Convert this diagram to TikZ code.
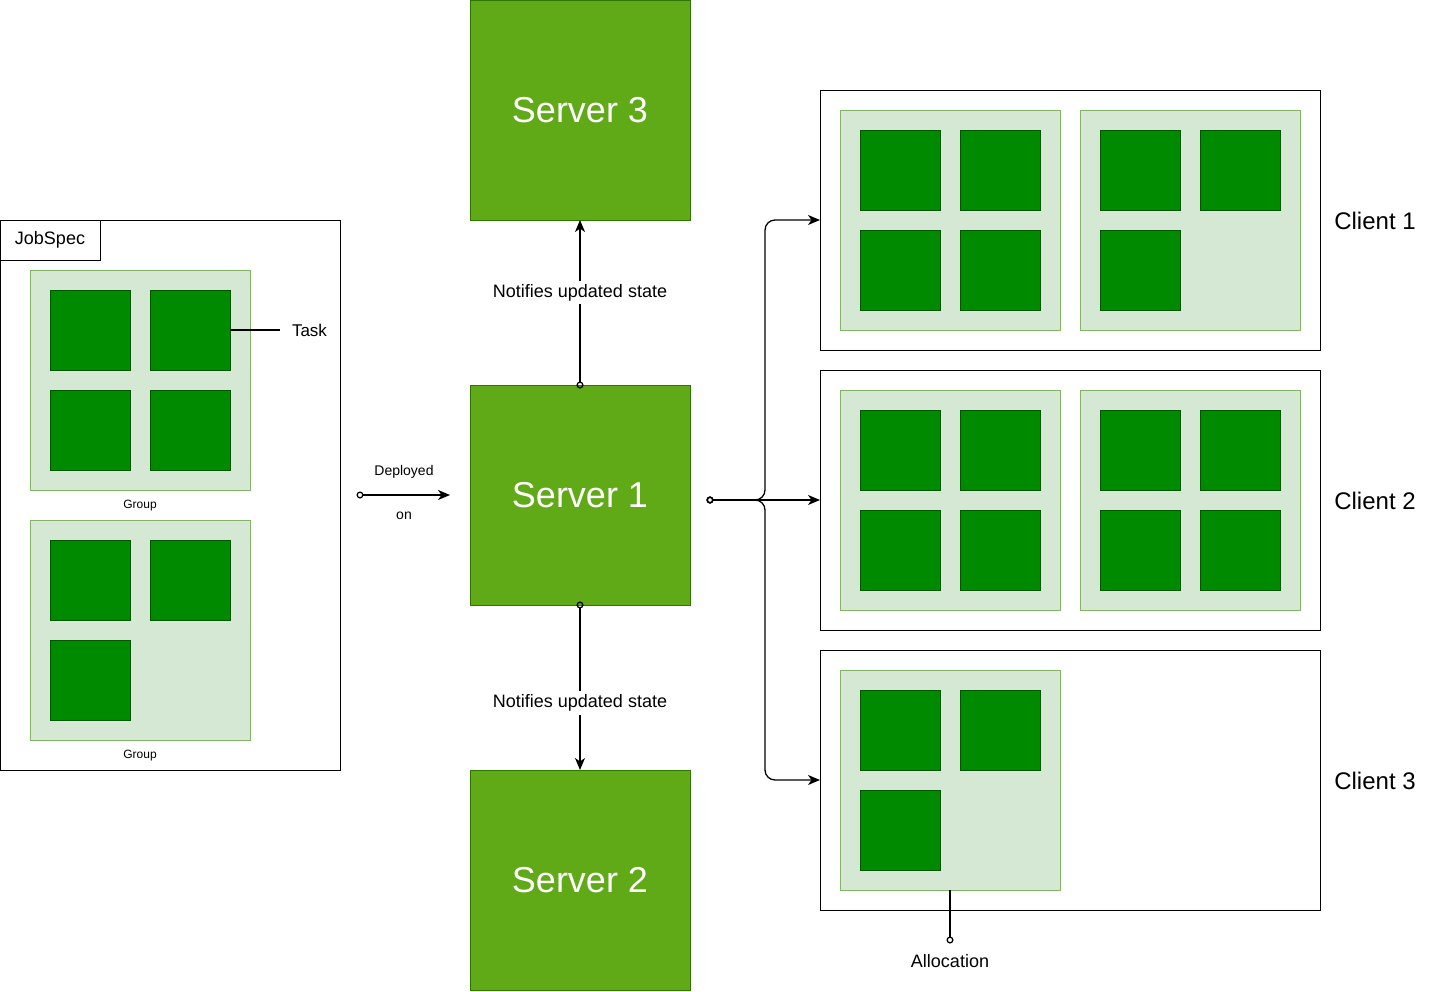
\documentclass[tikz,border=0pt]{standalone}
\usepackage{fontspec}
\setmainfont{Liberation Sans}
\usetikzlibrary{arrows.meta, positioning}

\definecolor{srvfill}{HTML}{60A917}
\definecolor{srvline}{HTML}{2D7600}
\definecolor{taskfill}{HTML}{008A00}
\definecolor{taskline}{HTML}{005700}
\definecolor{grpfill}{HTML}{D5E8D4}
\definecolor{grpline}{HTML}{82B366}

\newcommand{\px}[1]{\fontsize{#1}{#1}\selectfont}

\begin{document}
\begin{tikzpicture}[x=1pt,y=-1pt,
                    line width=1pt,outer sep=0pt,
                    server/.style={rectangle,draw=srvline,fill=srvfill,minimum size=220pt,
                                   text=white,font=\px{36}},
                    client/.style={rectangle,draw,minimum width=500pt,minimum height=260pt},
                    group/.style={rectangle,draw=grpline,fill=grpfill,minimum size=220pt},
                    task/.style={rectangle,draw=taskline,fill=taskfill,minimum size=80pt,inner sep=0pt},
                    conn/.style={line width=1.3pt,shorten <=-3.5pt,
                                 {Circle[open,length=7pt,width=7pt,line width=1.3pt]}-{Stealth[length=12pt,width=10pt,inset=3.5pt]}},
                    txt/.style={font=\px{#1}}]

  \useasboundingbox (0,0) rectangle (1431,991);

  % job spec
  \node[rectangle,draw,minimum width=340pt,minimum height=550pt] (job) at (170,495) {};
  \node[rectangle,draw,minimum width=100pt,minimum height=40pt,anchor=north west,font=\px{18}]
    (jobname) at (job.north west) {JobSpec};

  \node[group] (ga) at (140,380) {};
  \node[task] (a1) at (90,330) {};
  \node[task] (a2) [right=20pt of a1] {};
  \node[task] (a3) [below=20pt of a1] {};
  \node[task] (a4) [right=20pt of a3] {};
  \node[txt=12] (ganame) at (140,506) {Group};

  \node[group] (gb) at (140,630) {};
  \node[task] (b1) at (90,580) {};
  \node[task] (b2) [right=20pt of b1] {};
  \node[task] (b3) [below=20pt of b1] {};
  \node[txt=12] (gbname) at (140,756) {Group};

  \coordinate (taskend) at (280,330);
  \node[txt=17,anchor=west,inner xsep=12pt] (taskname) at (taskend) {Task};
  \draw[line width=1.3pt] (a2.east) -- (taskend);

  % servers
  \node[server] (s3) at (580,110) {Server 3};
  \node[server] (s1) at (580,495) {Server 1};
  \node[server] (s2) at (580,880) {Server 2};

  \coordinate (dep) at (360,495);
  \coordinate (depend) at (450,495);
  \draw[conn] (dep) -- (depend);
  \node[txt=14] (depup) at (404,472) {Deployed};
  \node[txt=14] (deplow) at (404,516) {on};

  \draw[conn] (s1.north) -- node[txt=18,fill=white,pos=0.56] {Notifies updated state} (s3.south);
  \draw[conn] (s1.south) -- node[txt=18,fill=white,pos=0.594] {Notifies updated state} (s2.north);

  % clients
  \node[client] (c1) at (1070,220) {};
  \node[client] (c2) at (1070,500) {};
  \node[client] (c3) at (1070,780) {};
  \node[txt=24] (c1name) at (1375,221) {Client 1};
  \node[txt=24] (c2name) at (1375,501) {Client 2};
  \node[txt=24] (c3name) at (1375,781) {Client 3};

  \coordinate (fan) at (710,500);
  \coordinate (split) at (765,500);
  \draw[conn,rounded corners=10pt] (fan) -- (split) |- (c1.west);
  \draw[conn,rounded corners=10pt] (fan) -- (split) |- (c3.west);
  \draw[conn] (fan) -- (c2.west);

  \node[group] (ca) at (950,220) {};
  \node[task] (ca1) at (900,170) {};
  \node[task] (ca2) [right=20pt of ca1] {};
  \node[task] (ca3) [below=20pt of ca1] {};
  \node[task] (ca4) [right=20pt of ca3] {};
  \node[group] (cb) at (1190,220) {};
  \node[task] (cb1) at (1140,170) {};
  \node[task] (cb2) [right=20pt of cb1] {};
  \node[task] (cb3) [below=20pt of cb1] {};

  \node[group] (cc) at (950,500) {};
  \node[task] (cc1) at (900,450) {};
  \node[task] (cc2) [right=20pt of cc1] {};
  \node[task] (cc3) [below=20pt of cc1] {};
  \node[task] (cc4) [right=20pt of cc3] {};
  \node[group] (cd) at (1190,500) {};
  \node[task] (cd1) at (1140,450) {};
  \node[task] (cd2) [right=20pt of cd1] {};
  \node[task] (cd3) [below=20pt of cd1] {};
  \node[task] (cd4) [right=20pt of cd3] {};

  \node[group] (ce) at (950,780) {};
  \node[task] (ce1) at (900,730) {};
  \node[task] (ce2) [right=20pt of ce1] {};
  \node[task] (ce3) [below=20pt of ce1] {};

  \coordinate (alloc) at (950,940);
  \draw[line width=1.3pt,shorten >=-3.5pt,-{Circle[open,length=7pt,width=7pt,line width=1.3pt]}] (ce.south) -- (alloc);
  \node[txt=18] (allocname) at (950,961) {Allocation};

\end{tikzpicture}
\end{document}
